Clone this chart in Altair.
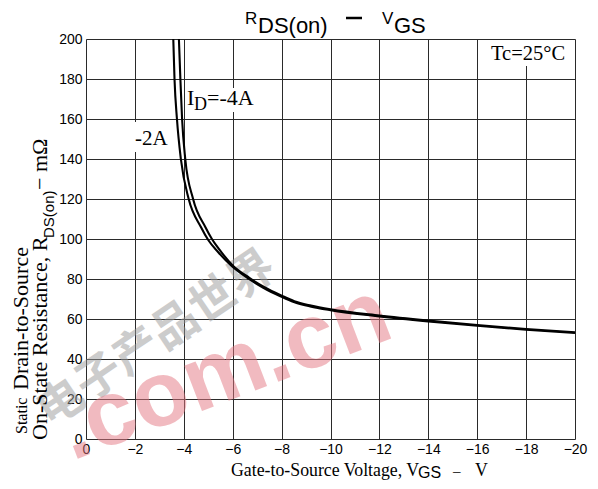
import altair as alt
import pandas as pd

# ---- data ----
vgs_2a = [-3.57, -3.62, -3.72, -3.88, -4.20, -4.70, -5.00, -5.40, -5.97, -6.65,
          -7.27, -7.95, -8.50, -9.17, -10.0, -12.0, -14.0, -16.0, -18.0, -20.0]
r_2a = [200, 180, 160, 140, 120, 106.0, 99.5, 93.5, 86.4, 80.2,
        75.5, 71.4, 68.5, 66.3, 64.4, 61.3, 58.8, 56.6, 54.6, 53.0]
vgs_4a = [-3.80, -3.86, -3.93, -4.06, -4.38, -4.88, -5.15, -5.45, -6.00, -6.68,
          -7.30, -7.98, -8.52, -9.20, -10.0, -12.0, -14.0, -16.0, -18.0, -20.0]
r_4a = [200, 180, 160, 140, 120, 106.0, 100.0, 94.8, 86.8, 80.6,
        75.9, 71.8, 68.9, 66.7, 64.8, 61.7, 59.2, 57.0, 55.0, 53.4]
x_ticks = [0, -2, -4, -6, -8, -10, -12, -14, -16, -18, -20]
y_ticks = [0, 20, 40, 60, 80, 100, 120, 140, 160, 180, 200]

df = pd.DataFrame({
    "VGS": vgs_2a + vgs_4a,
    "R": r_2a + r_4a,
    "ID": ["-2A"] * len(vgs_2a) + ["-4A"] * len(vgs_4a),
})

LEFT, TOP = 86, 39  # page position of plot origin
W, H = 489, 400

xs = alt.Scale(domain=[0, -20], nice=False, zero=False)
ys = alt.Scale(domain=[0, 200], nice=False, zero=False)

curves = alt.Chart(df).mark_line(
    color="black", strokeWidth=2.1, interpolate="monotone", clip=True
).encode(
    x=alt.X("VGS:Q", scale=xs, axis=alt.Axis(
        values=x_ticks, title=None, labelFont="Liberation Sans", labelFontSize=14,
        labelColor="black", tickSize=0, labelPadding=3, labelFlush=False,
        grid=True, gridColor="#2a2a2a", gridWidth=1, domain=False)),
    y=alt.Y("R:Q", scale=ys, axis=alt.Axis(
        values=y_ticks, title=None, labelFont="Liberation Sans", labelFontSize=14,
        labelColor="black", tickSize=0, labelPadding=4, labelFlush=False,
        grid=True, gridColor="#2a2a2a", gridWidth=1, domain=False)),
    detail="ID:N",
    order=alt.Order("VGS:Q", sort="descending"),
)

one = alt.Data(values=[{}])


def txt(s, x, y, size, font="Liberation Serif", angle=0, weight="normal",
        color="black", opacity=1.0, align="left"):
    return alt.Chart(one).mark_text(
        text=s, font=font, fontSize=size, angle=angle, align=align,
        baseline="alphabetic", fontWeight=weight, color=color, opacity=opacity
    ).encode(x=alt.value(x - LEFT), y=alt.value(y - TOP))


def box(x1, y1, x2, y2):
    return alt.Chart(one).mark_rect(color="white").encode(
        x=alt.value(x1 - LEFT), x2=alt.value(x2 - LEFT),
        y=alt.value(y1 - TOP), y2=alt.value(y2 - TOP))


def dash(x1, x2, y, width):
    return alt.Chart(one).mark_rule(color="black", strokeWidth=width).encode(
        x=alt.value(x1 - LEFT), x2=alt.value(x2 - LEFT), y=alt.value(y - TOP))


layers = [
    # watermark of the source page
    txt("电子产品世界", 50, 428, 46, font="Noto Sans CJK SC", angle=326,
        color="#9a9a9a", opacity=0.5, weight="bold"),
    txt(".com.cn", 72, 461, 92, font="Liberation Sans", angle=339,
        color="#e57882", opacity=0.5, weight="bold"),
    curves,
    # label backgrounds
    box(132, 122, 170, 152),
    box(186, 88, 258, 112),
    box(487, 40, 572, 66),
    # in-plot labels
    txt("-2A", 135, 145, 21),
    txt("I", 187, 105, 22),
    txt("D", 194, 110, 18),
    txt("=-4A", 207, 105, 22),
    txt("Tc=25°C", 491, 60, 20.5),
    # chart title
    txt("R", 245, 24, 17, font="Liberation Sans"),
    txt("DS(on)", 258, 33, 22, font="Liberation Sans"),
    dash(346, 362, 18, 2.5),
    txt("V", 382, 24, 17, font="Liberation Sans"),
    txt("GS", 394, 33, 22, font="Liberation Sans"),
    # x axis title
    txt("Gate-to-Source Voltage, V", 231, 476, 17.8),
    txt("GS", 418, 478, 16, font="Liberation Sans"),
    txt("–", 453, 476, 15),
    txt("V", 475, 476, 17.8),
    # y axis title (rotated)
    txt("Static", 27, 434, 16, angle=270),
    txt("Drain-to-Source", 27.5, 390, 22, angle=270),
    txt("On-State Resistance, R", 47, 440, 22, angle=270),
    txt("DS(on)", 54, 238, 15, font="Liberation Sans", angle=270),
    txt("− mΩ", 47, 190, 22, angle=270),
]

chart = alt.layer(*layers).properties(
    width=W, height=H,
    autosize=alt.AutoSizeParams(type="none"),
    padding={"left": LEFT - 8, "top": TOP - 8, "right": 598 - 16 - (LEFT - 8) - W,
             "bottom": 489 - 16 - (TOP - 8) - H},
).configure_view(stroke="black", strokeWidth=1.5).configure(background="white")

chart.save("out.html", embed_options={"renderer": "svg", "actions": False})
